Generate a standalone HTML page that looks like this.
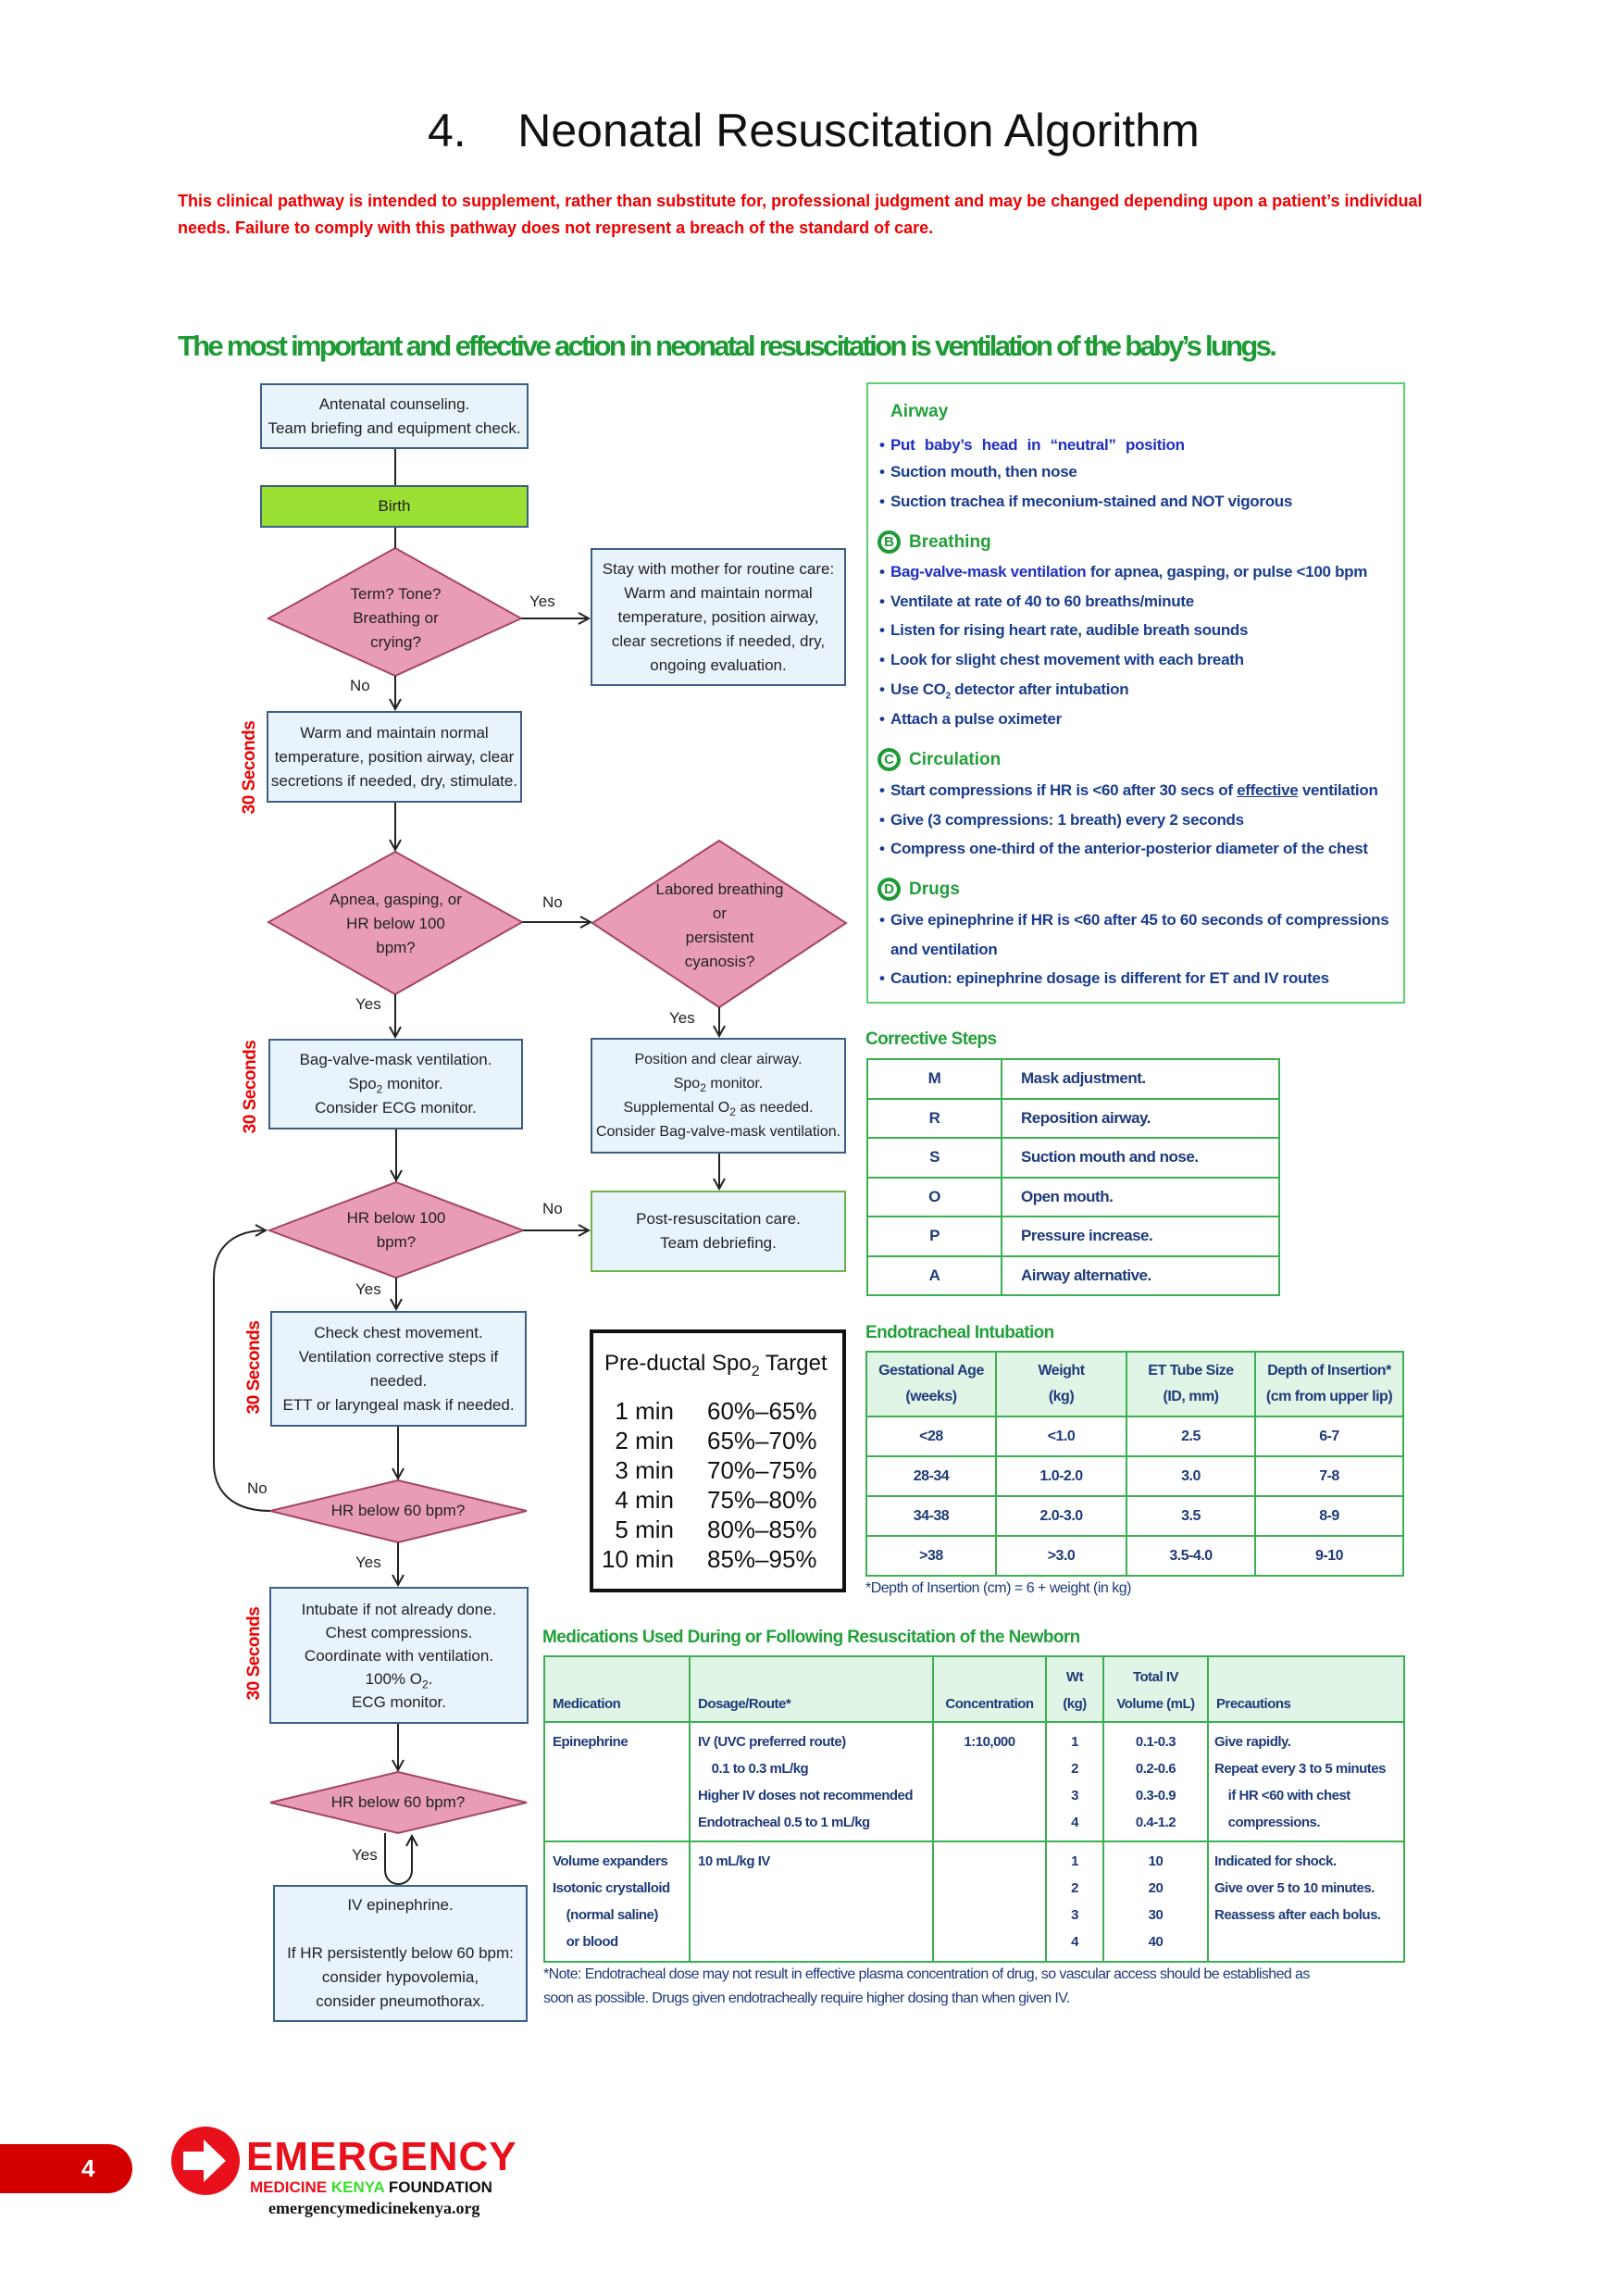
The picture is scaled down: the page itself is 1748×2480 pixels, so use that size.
<!DOCTYPE html>
<html><head><meta charset="utf-8">
<style>
*{margin:0;padding:0;box-sizing:border-box}
body{width:1748px;height:2480px;background:#fff;position:relative;overflow:hidden;font-family:"Liberation Sans",sans-serif}
.a{position:absolute;white-space:nowrap}
.box{position:absolute;background:#e9f3fb;border:2px solid #3d5f86;display:flex;align-items:center;justify-content:center;text-align:center;font-size:17px;line-height:26px;color:#222}
.dt{position:absolute;display:flex;align-items:center;justify-content:center;text-align:center;font-size:17px;line-height:26px;color:#222}
sub{font-size:12px;line-height:0}
.lbl{position:absolute;font-size:17px;color:#222}
.sec{position:absolute;color:#e00;font-weight:bold;font-size:19px;transform:rotate(-90deg);transform-origin:center;white-space:nowrap;width:110px;text-align:center;letter-spacing:-0.5px}
.r{position:absolute;left:962px;font-size:17px;font-weight:bold;color:#1a3c8c;white-space:nowrap;letter-spacing:-0.3px}
.r:before{content:"•";position:absolute;left:-12px}
.h{position:absolute;font-size:19px;font-weight:bold;color:#22a03a;white-space:nowrap}
.ic{position:absolute;left:948px;width:25px;height:25px;border:4px solid #1e9a35;border-radius:50%;color:#1e9a35;font-weight:bold;font-size:15px;line-height:17px;text-align:center}
table{border-collapse:collapse;position:absolute;color:#1f3a7a;font-weight:bold;letter-spacing:-0.5px;table-layout:fixed}
td,th{border:2px solid #3cb050;white-space:nowrap;overflow:hidden}
.gt{position:absolute;font-size:19px;font-weight:bold;color:#22a03a;letter-spacing:-0.6px;white-space:nowrap}
</style></head><body>

<div class="a" style="left:462px;top:112px;font-size:50px;color:#111">4.&nbsp;&nbsp;&nbsp; Neonatal Resuscitation Algorithm</div>
<div class="a" style="left:192px;top:207px;font-size:18px;font-weight:bold;color:#e00">This clinical pathway is intended to supplement, rather than substitute for, professional judgment and may be changed depending upon a patient’s individual</div>
<div class="a" style="left:192px;top:236px;font-size:18px;font-weight:bold;color:#e00">needs. Failure to comply with this pathway does not represent a breach of the standard of care.</div>
<div class="a" style="left:192px;top:356px;font-size:31px;font-weight:bold;color:#1e9a35;letter-spacing:-2.7px">The most important and effective action in neonatal resuscitation is ventilation of the baby’s lungs.</div>

<svg style="position:absolute;left:0;top:0" width="1748" height="2480">
<defs><marker id="ar" markerWidth="14" markerHeight="14" refX="12" refY="7" orient="auto" markerUnits="userSpaceOnUse"><path d="M1,1 L12,7 L1,13" fill="none" stroke="#222" stroke-width="2"/></marker></defs>
<g fill="#e89db5" stroke="#a54466" stroke-width="2">
<polygon points="427,592 563,668 427,730 290,668"/>
<polygon points="427,920 564,996 427,1074 290,996"/>
<polygon points="777,908 914,997 777,1088 640,997"/>
<polygon points="428,1277 565,1329 428,1380 291,1329"/>
<polygon points="430,1599 569,1632 430,1666 292,1632"/>
<polygon points="430,1914 569,1947 430,1980 292,1947"/>
</g>
<g stroke="#222" stroke-width="2" fill="none">
<line x1="427" y1="485" x2="427" y2="524"/>
<line x1="427" y1="570" x2="427" y2="592"/>
<line x1="563" y1="668" x2="636" y2="668" marker-end="url(#ar)"/>
<line x1="427" y1="730" x2="427" y2="766" marker-end="url(#ar)"/>
<line x1="427" y1="867" x2="427" y2="918" marker-end="url(#ar)"/>
<line x1="564" y1="996" x2="638" y2="996" marker-end="url(#ar)"/>
<line x1="427" y1="1074" x2="427" y2="1120" marker-end="url(#ar)"/>
<line x1="777" y1="1088" x2="777" y2="1119" marker-end="url(#ar)"/>
<line x1="777" y1="1246" x2="777" y2="1284" marker-end="url(#ar)"/>
<line x1="428" y1="1220" x2="428" y2="1275" marker-end="url(#ar)"/>
<line x1="565" y1="1329" x2="636" y2="1329" marker-end="url(#ar)"/>
<line x1="428" y1="1380" x2="428" y2="1414" marker-end="url(#ar)"/>
<line x1="430" y1="1541" x2="430" y2="1597" marker-end="url(#ar)"/>
<path d="M292,1632 C250,1632 231,1610 231,1580 L231,1380 C231,1345 255,1329 287,1329" marker-end="url(#ar)"/>
<line x1="430" y1="1666" x2="430" y2="1712" marker-end="url(#ar)"/>
<line x1="430" y1="1862" x2="430" y2="1912" marker-end="url(#ar)"/>
<path d="M416,1980 L416,2020 C416,2040 445,2040 445,2020 L445,1983" marker-end="url(#ar)"/>
</g>
<rect x="937" y="414" width="580" height="669" fill="none" stroke="#5fcf6f" stroke-width="2"/>
<rect x="639" y="1438" width="273" height="280" fill="none" stroke="#111" stroke-width="4"/>
</svg>

<div class="box" style="left:281px;top:414px;width:290px;height:71px"><div>Antenatal counseling.<br>Team briefing and equipment check.</div></div>
<div class="box" style="left:281px;top:524px;width:290px;height:46px;background:#99e033"><div>Birth</div></div>
<div class="dt" style="left:330px;top:620px;width:195px;height:96px"><div>Term? Tone?<br>Breathing or<br>crying?</div></div>
<div class="box" style="left:638px;top:592px;width:276px;height:149px"><div>Stay with mother for routine care:<br>Warm and maintain normal<br>temperature, position airway,<br>clear secretions if needed, dry,<br>ongoing evaluation.</div></div>
<div class="lbl" style="left:572px;top:640px">Yes</div>
<div class="lbl" style="left:378px;top:731px">No</div>
<div class="box" style="left:288px;top:768px;width:276px;height:99px"><div>Warm and maintain normal<br>temperature, position airway, clear<br>secretions if needed, dry, stimulate.</div></div>
<div class="dt" style="left:330px;top:950px;width:195px;height:96px"><div>Apnea, gasping, or<br>HR below 100<br>bpm?</div></div>
<div class="dt" style="left:680px;top:945px;width:195px;height:110px"><div>Labored breathing<br>or<br>persistent<br>cyanosis?</div></div>
<div class="lbl" style="left:586px;top:965px">No</div>
<div class="lbl" style="left:384px;top:1075px">Yes</div>
<div class="lbl" style="left:723px;top:1090px">Yes</div>

<div class="box" style="left:290px;top:1122px;width:275px;height:98px"><div>Bag-valve-mask ventilation.<br>Spo<sub>2</sub> monitor.<br>Consider ECG monitor.</div></div>
<div class="box" style="left:638px;top:1121px;width:276px;height:125px;font-size:16px"><div>Position and clear airway.<br>Spo<sub>2</sub> monitor.<br>Supplemental O<sub>2</sub> as needed.<br>Consider Bag-valve-mask ventilation.</div></div>
<div class="dt" style="left:340px;top:1300px;width:176px;height:58px"><div>HR below 100<br>bpm?</div></div>
<div class="box" style="left:638px;top:1286px;width:276px;height:88px;border-color:#6db34a"><div>Post-resuscitation care.<br>Team debriefing.</div></div>
<div class="lbl" style="left:586px;top:1296px">No</div>
<div class="lbl" style="left:384px;top:1383px">Yes</div>
<div class="box" style="left:292px;top:1416px;width:277px;height:125px"><div>Check chest movement.<br>Ventilation corrective steps if<br>needed.<br>ETT or laryngeal mask if needed.</div></div>
<div class="dt" style="left:320px;top:1619px;width:220px;height:26px"><div>HR below 60 bpm?</div></div>
<div class="lbl" style="left:267px;top:1598px">No</div>
<div class="lbl" style="left:384px;top:1678px">Yes</div>
<div class="box" style="left:291px;top:1714px;width:280px;height:148px;line-height:25px"><div>Intubate if not already done.<br>Chest compressions.<br>Coordinate with ventilation.<br>100% O<sub>2</sub>.<br>ECG monitor.</div></div>
<div class="dt" style="left:320px;top:1934px;width:220px;height:26px"><div>HR below 60 bpm?</div></div>
<div class="lbl" style="left:380px;top:1994px">Yes</div>
<div class="box" style="left:295px;top:2036px;width:275px;height:148px"><div>IV epinephrine.<br><br>If HR persistently below 60 bpm:<br>consider hypovolemia,<br>consider pneumothorax.</div></div>

<div class="sec" style="left:215px;top:818px">30 Seconds</div>
<div class="sec" style="left:216px;top:1163px">30 Seconds</div>
<div class="sec" style="left:220px;top:1466px">30 Seconds</div>
<div class="sec" style="left:220px;top:1775px">30 Seconds</div>

<div class="a" style="left:653px;top:1459px;font-size:24px;color:#111">Pre-ductal Spo<sub style="font-size:16px">2</sub> Target</div>
<div class="a" style="left:650px;top:1508px;width:78px;text-align:right;font-size:26px;line-height:32px;color:#111">1 min<br>2 min<br>3 min<br>4 min<br>5 min<br>10 min</div>
<div class="a" style="left:764px;top:1508px;font-size:26px;line-height:32px;color:#111">60%–65%<br>65%–70%<br>70%–75%<br>75%–80%<br>80%–85%<br>85%–95%</div>

<div class="h" style="left:962px;top:434px">Airway</div>
<div class="r" style="top:471px;color:#1f2fbf;word-spacing:6px">Put baby’s head in “neutral” position</div>
<div class="r" style="top:500px">Suction mouth, then nose</div>
<div class="r" style="top:532px">Suction trachea if meconium-stained and NOT vigorous</div>
<div class="ic" style="top:573px">B</div><div class="h" style="left:982px;top:575px">Breathing</div>
<div class="r" style="top:608px"><span style="color:#1f2fbf">Bag-valve-mask ventilation</span> for apnea, gasping, or pulse &lt;100 bpm</div>
<div class="r" style="top:640px">Ventilate at rate of 40 to 60 breaths/minute</div>
<div class="r" style="top:671px">Listen for rising heart rate, audible breath sounds</div>
<div class="r" style="top:703px">Look for slight chest movement with each breath</div>
<div class="r" style="top:735px">Use CO<sub style="font-size:10px">2</sub> detector after intubation</div>
<div class="r" style="top:767px">Attach a pulse oximeter</div>
<div class="ic" style="top:808px">C</div><div class="h" style="left:982px;top:810px">Circulation</div>
<div class="r" style="top:844px">Start compressions if HR is &lt;60 after 30 secs of <u>effective</u> ventilation</div>
<div class="r" style="top:876px">Give (3 compressions: 1 breath) every 2 seconds</div>
<div class="r" style="top:907px">Compress one-third of the anterior-posterior diameter of the chest</div>
<div class="ic" style="top:948px">D</div><div class="h" style="left:982px;top:950px">Drugs</div>
<div class="r" style="top:984px">Give epinephrine if HR is &lt;60 after 45 to 60 seconds of compressions</div>
<div class="a" style="left:962px;top:1016px;font-size:17px;font-weight:bold;color:#1a3c8c;letter-spacing:-0.3px">and ventilation</div>
<div class="r" style="top:1047px">Caution: epinephrine dosage is different for ET and IV routes</div>

<div class="gt" style="left:935px;top:1112px">Corrective Steps</div>
<table style="left:936px;top:1143px;width:447px;font-size:17px">
<tr style="height:42.5px"><td style="width:145px;text-align:center">M</td><td style="padding-left:20px">Mask adjustment.</td></tr>
<tr style="height:42.5px"><td style="text-align:center">R</td><td style="padding-left:20px">Reposition airway.</td></tr>
<tr style="height:42.5px"><td style="text-align:center">S</td><td style="padding-left:20px">Suction mouth and nose.</td></tr>
<tr style="height:42.5px"><td style="text-align:center">O</td><td style="padding-left:20px">Open mouth.</td></tr>
<tr style="height:42.5px"><td style="text-align:center">P</td><td style="padding-left:20px">Pressure increase.</td></tr>
<tr style="height:42.5px"><td style="text-align:center">A</td><td style="padding-left:20px">Airway alternative.</td></tr>
</table>

<div class="gt" style="left:935px;top:1429px">Endotracheal Intubation</div>
<table style="left:935px;top:1459px;width:582px;font-size:16px;text-align:center">
<tr style="height:70px;background:#e0f5e6;line-height:28px"><td style="width:140px">Gestational Age<br>(weeks)</td><td style="width:141px">Weight<br>(kg)</td><td style="width:139px">ET Tube Size<br>(ID, mm)</td><td>Depth of Insertion*<br>(cm from upper lip)</td></tr>
<tr style="height:43px"><td>&lt;28</td><td>&lt;1.0</td><td>2.5</td><td>6-7</td></tr>
<tr style="height:43px"><td>28-34</td><td>1.0-2.0</td><td>3.0</td><td>7-8</td></tr>
<tr style="height:43px"><td>34-38</td><td>2.0-3.0</td><td>3.5</td><td>8-9</td></tr>
<tr style="height:43px"><td>&gt;38</td><td>&gt;3.0</td><td>3.5-4.0</td><td>9-10</td></tr>
</table>
<div class="a" style="left:935px;top:1707px;font-size:16px;color:#1f3a7a;letter-spacing:-0.5px">*Depth of Insertion (cm) = 6 + weight (in kg)</div>

<div class="gt" style="left:586px;top:1758px">Medications Used During or Following Resuscitation of the Newborn</div>
<table style="left:587px;top:1788px;width:931px;font-size:15px;line-height:29px">
<colgroup><col style="width:157px"><col style="width:263px"><col style="width:122px"><col style="width:62px"><col style="width:113px"><col></colgroup>
<tr style="height:71px;background:#e0f5e6;vertical-align:bottom"><td style="padding:0 8px 4px">Medication</td><td style="padding:0 8px 4px">Dosage/Route*</td><td style="text-align:center;padding-bottom:4px">Concentration</td><td style="text-align:center;padding-bottom:4px">Wt<br>(kg)</td><td style="text-align:center;padding-bottom:4px">Total IV<br>Volume (mL)</td><td style="padding:0 8px 4px">Precautions</td></tr>
<tr style="height:129px;vertical-align:top"><td style="padding:6px 8px 0">Epinephrine</td><td style="padding:6px 8px 0">IV (UVC preferred route)<br>&nbsp;&nbsp;&nbsp;&nbsp;0.1 to 0.3 mL/kg<br>Higher IV doses not recommended<br>Endotracheal 0.5 to 1 mL/kg</td><td style="text-align:center;padding-top:6px">1:10,000</td><td style="text-align:center;padding-top:6px">1<br>2<br>3<br>4</td><td style="text-align:center;padding-top:6px">0.1-0.3<br>0.2-0.6<br>0.3-0.9<br>0.4-1.2</td><td style="padding:6px 6px 0">Give rapidly.<br>Repeat every 3 to 5 minutes<br>&nbsp;&nbsp;&nbsp;&nbsp;if HR &lt;60 with chest<br>&nbsp;&nbsp;&nbsp;&nbsp;compressions.</td></tr>
<tr style="height:130px;vertical-align:top"><td style="padding:6px 8px 0">Volume expanders<br>Isotonic crystalloid<br>&nbsp;&nbsp;&nbsp;&nbsp;(normal saline)<br>&nbsp;&nbsp;&nbsp;&nbsp;or blood</td><td style="padding:6px 8px 0">10 mL/kg IV</td><td></td><td style="text-align:center;padding-top:6px">1<br>2<br>3<br>4</td><td style="text-align:center;padding-top:6px">10<br>20<br>30<br>40</td><td style="padding:6px 6px 0">Indicated for shock.<br>Give over 5 to 10 minutes.<br>Reassess after each bolus.</td></tr>
</table>
<div class="a" style="left:587px;top:2124px;font-size:16px;color:#1f3a7a;letter-spacing:-0.6px">*Note: Endotracheal dose may not result in effective plasma concentration of drug, so vascular access should be established as</div>
<div class="a" style="left:587px;top:2150px;font-size:16px;color:#1f3a7a;letter-spacing:-0.6px">soon as possible. Drugs given endotracheally require higher dosing than when given IV.</div>

<div class="a" style="left:0;top:2316px;width:143px;height:53px;background:#d40000;border-radius:0 27px 27px 0;color:#fff;font-weight:bold;font-size:26px;line-height:53px;padding-left:88px">4</div>
<svg style="position:absolute;left:184px;top:2295px" width="80" height="80"><circle cx="38" cy="39" r="37" fill="#e8101a"/><polygon points="14,29 36,29 36,16 60,39 36,62 36,49 14,49" fill="#fff"/></svg>
<div class="a" style="left:266px;top:2306px;font-size:44px;font-weight:bold;color:#e8101a;letter-spacing:1px;line-height:48px">EMERGENCY</div>
<div class="a" style="left:270px;top:2353px;font-size:17px;font-weight:bold;line-height:20px"><span style="color:#e8101a">MEDICINE </span><span style="color:#3adc2a">KENYA</span><span style="color:#111"> FOUNDATION</span></div>
<div class="a" style="left:290px;top:2375px;font-family:'Liberation Serif',serif;font-size:18px;font-weight:bold;color:#111">emergencymedicinekenya.org</div>
</body></html>
